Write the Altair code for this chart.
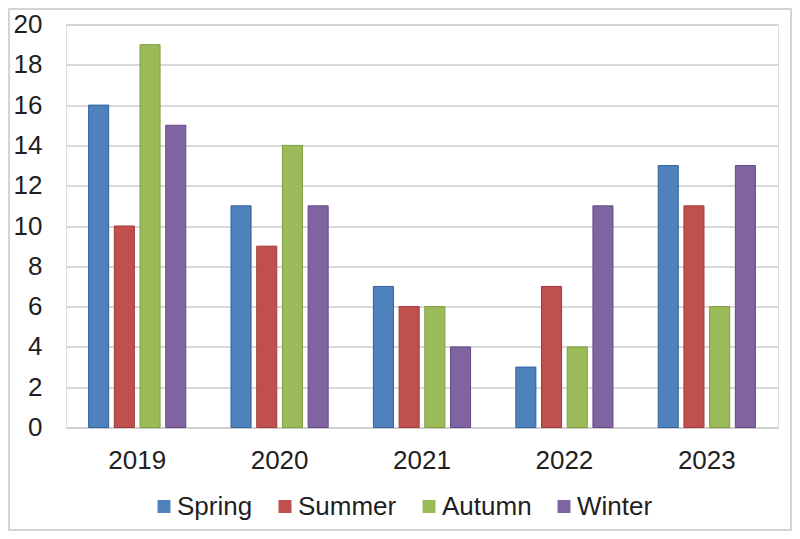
import altair as alt
import pandas as pd

years = ["2019", "2020", "2021", "2022", "2023"]
seasons = ["Spring", "Summer", "Autumn", "Winter"]
spring = [16, 11, 7, 3, 13]
summer = [10, 9, 6, 7, 11]
autumn = [19, 14, 6, 4, 6]
winter = [15, 11, 4, 11, 13]
y_ticks = [0, 2, 4, 6, 8, 10, 12, 14, 16, 18, 20]

fills = ["#4F81BD", "#C0504D", "#9BBB59", "#8064A2"]
strokes = ["#2F619E", "#A23A37", "#7E9E40", "#624A86"]

rows = []
for name, vals in zip(seasons, [spring, summer, autumn, winter]):
    for yr, v in zip(years, vals):
        rows.append({"Year": yr, "Season": name, "Value": v})
df = pd.DataFrame(rows)

FONT = "Liberation Sans"
TXT = "#1F1F1F"

bars = alt.Chart(df).mark_bar(strokeWidth=1).encode(
    x=alt.X("Year:N", sort=years,
            scale=alt.Scale(paddingInner=0, paddingOuter=0),
            axis=alt.Axis(title=None, labelAngle=0, ticks=False, labelPadding=20,
                          domain=True, domainColor="#CCCCCC", domainWidth=1.5,
                          grid=False, labelFontSize=26, labelColor=TXT, labelFont=FONT)),
    xOffset=alt.XOffset("Season:N", sort=seasons,
                        scale=alt.Scale(paddingInner=0.22, paddingOuter=0.88)),
    y=alt.Y("Value:Q", scale=alt.Scale(domain=[0, 20], nice=False),
            axis=alt.Axis(title=None, values=y_ticks, ticks=False, domain=False,
                          labelPadding=24, gridColor="#CCCCCC", gridWidth=1.5,
                          labelFontSize=26, labelColor=TXT, labelFont=FONT)),
    color=alt.Color("Season:N", sort=seasons,
                    scale=alt.Scale(domain=seasons, range=fills),
                    legend=alt.Legend(title=None, orient="none", direction="horizontal",
                                      legendX=85, legendY=469,
                                      symbolType="square", symbolSize=169,
                                      symbolStrokeWidth=0, symbolOpacity=1,
                                      labelFontSize=26, labelColor=TXT, labelFont=FONT,
                                      labelOffset=0, columnPadding=19)),
    stroke=alt.Stroke("Season:N", sort=seasons,
                      scale=alt.Scale(domain=seasons, range=strokes), legend=None),
)

frame = alt.Chart(pd.DataFrame({"a": [0]})).mark_rect(
    fill=None, stroke="#D4D4D4", strokeWidth=2
).encode(x=alt.value(-57), x2=alt.value(725), y=alt.value(-15.5), y2=alt.value(505.5))

chart = alt.layer(frame, bars).properties(
    width=712, height=403,
    autosize=alt.AutoSizeParams(type="none"),
    padding={"left": 58, "top": 16.5, "right": 14, "bottom": 103.5},
).configure_view(stroke=None).configure(background="white")

chart.save("out.html", embed_options={"renderer": "svg", "actions": False})
